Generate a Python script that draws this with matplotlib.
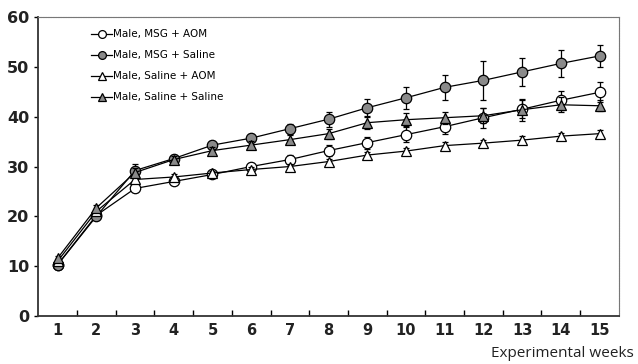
import numpy as np
import matplotlib.pyplot as plt

# data
weeks = np.arange(1, 16)

msg_aom = [10.3, 20.2, 25.6, 27.0, 28.4, 30.0, 31.4, 33.2, 34.8, 36.4, 38.0, 39.8, 41.5, 43.3, 44.9]
msg_aom_err = [0.5, 0.6, 0.8, 0.6, 0.6, 0.8, 0.9, 1.1, 1.2, 1.5, 1.5, 2.0, 1.8, 1.9, 2.0]

msg_sal = [10.3, 20.0, 29.2, 31.6, 34.3, 35.7, 37.6, 39.5, 41.8, 43.8, 45.9, 47.3, 49.0, 50.7, 52.2]
msg_sal_err = [0.5, 0.6, 1.3, 0.8, 0.8, 0.8, 1.0, 1.5, 1.7, 2.2, 2.5, 3.9, 2.8, 2.7, 2.3]

sal_aom = [11.0, 21.0, 27.4, 27.9, 28.7, 29.4, 30.0, 31.0, 32.3, 33.1, 34.2, 34.7, 35.3, 36.1, 36.6]
sal_aom_err = [0.4, 0.5, 0.6, 0.5, 0.5, 0.5, 0.6, 0.6, 0.7, 0.7, 0.7, 0.7, 0.8, 0.7, 0.7]

sal_sal = [11.6, 21.7, 28.8, 31.4, 33.2, 34.3, 35.4, 36.6, 38.8, 39.4, 39.8, 40.2, 41.4, 42.4, 42.2]
sal_sal_err = [0.5, 0.6, 1.0, 0.7, 0.8, 0.8, 0.9, 1.0, 1.2, 1.3, 1.2, 1.5, 2.2, 1.5, 1.1]

labels = ["Male, MSG + AOM", "Male, MSG + Saline", "Male, Saline + AOM", "Male, Saline + Saline"]

fig = plt.figure(figsize=(6.38, 3.64), dpi=100)
ax = fig.add_axes([0.06, 0.132, 0.91, 0.821])

gray = "#8a8a8a"
series = [
    (msg_aom, msg_aom_err, "o", "white"),
    (msg_sal, msg_sal_err, "o", gray),
    (sal_aom, sal_aom_err, "^", "white"),
    (sal_sal, sal_sal_err, "^", gray),
]
handles = []
for (vals, err, mk, fc), lab in zip(series, labels):
    ax.errorbar(weeks, vals, yerr=err, fmt="none", ecolor="black", elinewidth=0.9,
                capsize=2.5, capthick=0.9)
    h, = ax.plot(weeks, vals, marker=mk, markersize=7.5, markerfacecolor=fc,
                 markeredgecolor="black", markeredgewidth=0.9, color="black",
                 linewidth=0.9, label=lab)
    handles.append(h)

ax.set_xlim(0.5, 15.5)
ax.set_ylim(0, 60)
ax.set_xticks(weeks)
ax.set_xticklabels([str(w) for w in weeks], fontsize=10.5, fontweight="bold", color="#222222")
ax.set_xticks(np.arange(1.5, 15, 1), minor=True)
ax.tick_params(axis="x", which="major", length=0, pad=5)
ax.tick_params(axis="x", which="minor", direction="in", length=4, width=1)
ax.set_yticks(np.arange(0, 61, 10))
ax.tick_params(axis="y", direction="out", length=3, width=1, labelsize=11.5)
for t in ax.get_yticklabels():
    t.set_fontweight("bold")
    t.set_color("#222222")

for s in ["left", "bottom"]:
    ax.spines[s].set_linewidth(1.3)
    ax.spines[s].set_color("#333333")
for s in ["top", "right"]:
    ax.spines[s].set_linewidth(0.8)
    ax.spines[s].set_color("#777777")
    ax.spines[s].set_linestyle((0, (1, 0.5)))

ax.legend(handles=handles, loc="upper left", bbox_to_anchor=(0.075, 0.99), frameon=False,
          fontsize=7.5, handlelength=2.0, handletextpad=0.1,
          labelspacing=1.05, markerscale=0.75)

fig.text(0.994, 0.008, "Experimental weeks", ha="right", va="bottom",
         fontsize=11, family="Open Sans", color="#222222")

fig.savefig("out.png", dpi=100)
